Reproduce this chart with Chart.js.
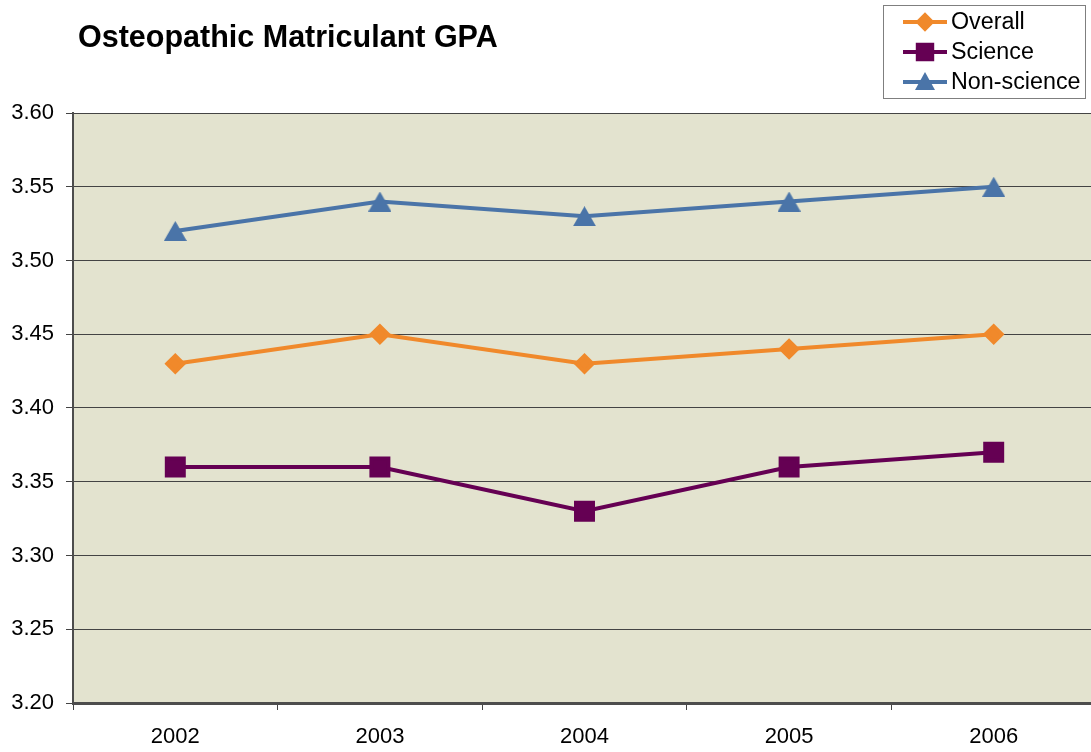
<!DOCTYPE html>
<html>
<head>
<meta charset="utf-8">
<script src="https://cdn.jsdelivr.net/npm/chart.js@4.4.1/dist/chart.umd.min.js"></script>
<style>
  html, body { margin: 0; padding: 0; background: #fff; overflow: hidden; }
  #wrap { width: 1091px; height: 752px; overflow: hidden; position: relative; }
  #wrap canvas { position: absolute; left: 0; top: 0; }
</style>
</head>
<body>
<div id="wrap"><canvas id="gpa" width="1112" height="752"></canvas></div>
<script>
// data
const years = ["2002", "2003", "2004", "2005", "2006"];
const overall = [3.43, 3.45, 3.43, 3.44, 3.45];
const science = [3.36, 3.36, 3.33, 3.36, 3.37];
const nonScience = [3.52, 3.54, 3.53, 3.54, 3.55];

const chartTitle = "Osteopathic Matriculant GPA";
const FONT = "'Liberation Sans', Arial, sans-serif";
const BLUE = "#4a74a8";

// triangle marker centred on its box (Excel style), used as a point image
function triangleMarker(w, h, color) {
    const c = document.createElement("canvas");
    c.width = w;
    c.height = h;
    const t = c.getContext("2d");
    t.fillStyle = color;
    t.beginPath();
    t.moveTo(w / 2, 0);
    t.lineTo(w, h);
    t.lineTo(0, h);
    t.closePath();
    t.fill();
    return c;
}
const triBig = triangleMarker(23, 20, BLUE);
const triSmall = triangleMarker(20, 18, BLUE);

// ─── plot background + title + boxed legend ───────────────────────
const ExcelLook = {
    id: "excelLook",
    beforeDraw(chart) {
        const { ctx, chartArea: a } = chart;
        ctx.save();
        ctx.fillStyle = "#e3e3cf";
        ctx.fillRect(a.left, a.top, a.right - a.left, a.bottom - a.top);
        ctx.restore();
    },
    afterDraw(chart) {
        const { ctx } = chart;
        ctx.save();
        ctx.fillStyle = "#000";
        ctx.font = "bold 30.5px " + FONT;
        ctx.textBaseline = "alphabetic";
        ctx.fillText(chartTitle, 78, 47);

        // legend box
        ctx.strokeStyle = "#7f7f7f";
        ctx.lineWidth = 1;
        ctx.strokeRect(883.5, 5.5, 202, 93);

        const rows = [22, 52, 82];
        chart.data.datasets.forEach((ds, i) => {
            const y = rows[i];
            ctx.strokeStyle = ds.borderColor;
            ctx.lineWidth = 4;
            ctx.beginPath();
            ctx.moveTo(903, y);
            ctx.lineTo(947, y);
            ctx.stroke();
            if (ds.pointStyle instanceof HTMLCanvasElement) {
                ctx.drawImage(triSmall, 925 - 10, y - 10);
            } else {
                Chart.helpers.drawPoint(ctx, {
                    pointStyle: ds.pointStyle,
                    radius: ds.pointRadius * 0.85,
                    borderWidth: 1,
                    rotation: 0
                }, 925, y);
                ctx.fillStyle = ds.borderColor;
                ctx.fill();
            }
            ctx.fillStyle = "#000";
            ctx.font = "23.3px " + FONT;
            ctx.textBaseline = "middle";
            ctx.fillText(ds.label, 951, y + 1);
        });
        ctx.restore();
    }
};

const ctx = document.getElementById("gpa").getContext("2d");
new Chart(ctx, {
    type: "line",
    data: {
        labels: years,
        datasets: [
            {
                label: "Overall",
                data: overall,
                borderColor: "#f0892b",
                backgroundColor: "#f0892b",
                pointBackgroundColor: "#f0892b",
                pointBorderColor: "#f0892b",
                pointStyle: "rectRot",
                pointRadius: 8,
                borderWidth: 4
            },
            {
                label: "Science",
                data: science,
                borderColor: "#650053",
                backgroundColor: "#650053",
                pointBackgroundColor: "#650053",
                pointBorderColor: "#650053",
                pointStyle: "rect",
                pointRadius: 12,
                borderWidth: 4
            },
            {
                label: "Non-science",
                data: nonScience,
                borderColor: BLUE,
                backgroundColor: BLUE,
                pointBackgroundColor: BLUE,
                pointBorderColor: BLUE,
                pointStyle: triBig,
                pointRadius: 11,
                borderWidth: 4
            }
        ]
    },
    options: {
        animation: false,
        responsive: false,
        devicePixelRatio: 1,
        layout: { padding: { top: 113, right: 1, bottom: 0, left: 0 } },
        plugins: {
            legend: { display: false },
            title: { display: false },
            tooltip: { enabled: false }
        },
        elements: { line: { tension: 0 }, point: { borderWidth: 1 } },
        scales: {
            x: {
                offset: true,
                grid: {
                    offset: true,
                    drawOnChartArea: false,
                    drawTicks: true,
                    tickLength: 7,
                    color: "#444",
                    lineWidth: 1
                },
                border: { color: "#4d4d4d", width: 3 },
                ticks: {
                    color: "#000",
                    font: { family: FONT, size: 22 },
                    padding: 14,
                    maxRotation: 0
                },
                afterFit(scale) {
                    scale.height = 49;
                    scale.paddingLeft = 0;
                    scale.paddingRight = 0;
                }
            },
            y: {
                min: 3.2,
                max: 3.6,
                grid: {
                    color: "#444",
                    lineWidth: 1,
                    tickLength: 7,
                    drawTicks: true
                },
                border: { color: "#4d4d4d", width: 2 },
                ticks: {
                    stepSize: 0.05,
                    color: "#000",
                    font: { family: FONT, size: 22 },
                    padding: 12,
                    callback: v => Number(v).toFixed(2)
                },
                afterFit(scale) {
                    scale.width = 73;
                    scale.paddingTop = 0;
                    scale.paddingBottom = 0;
                }
            }
        }
    },
    plugins: [ExcelLook]
});
</script>
</body>
</html>
